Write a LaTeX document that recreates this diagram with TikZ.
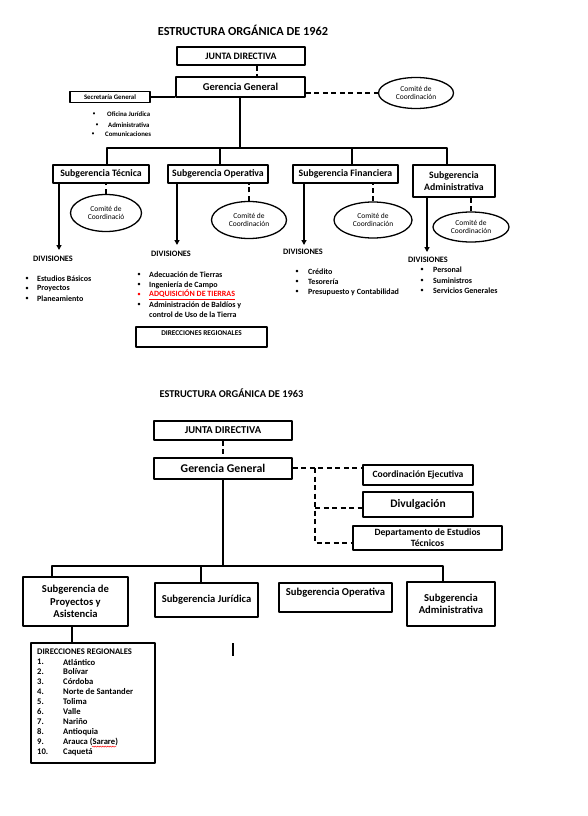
\documentclass[tikz,border=0pt]{standalone}
\usepackage{fontspec}
\setmainfont{Carlito}
\usetikzlibrary{shapes.geometric,arrows.meta,decorations.pathmorphing}
\newcommand{\fs}[1]{\fontsize{#1}{1.15\dimexpr#1pt\relax}\selectfont}
\begin{document}
\begin{tikzpicture}[x=1pt, y=-1pt, line join=round, >={Triangle[width=5pt,length=5pt]},
	box/.style={draw, line width=1.5pt, inner sep=1pt, align=center, font=\bfseries},
	comite/.style={draw, ellipse, line width=1.3pt, inner sep=0pt, align=center, font=\fs{7.5}},
	link/.style={line width=1.5pt},
	dlink/.style={line width=1.7pt, dash pattern=on 5pt off 3.5pt},
	item/.style={anchor=west, inner sep=0pt, font=\bfseries\fs{8}}]
	\useasboundingbox (0,0) rectangle (588,816);
	% ---------- 1962 ----------
	\node[font=\bfseries\fs{12.3}] (title1) at (243,30) {ESTRUCTURA ORGÁNICA DE 1962};
	\node[box, font=\bfseries\fs{9.8}, minimum width=128pt, minimum height=18pt] (jd1) at (241,56) {JUNTA DIRECTIVA};
	\node[box, font=\bfseries\fs{10.5}, minimum width=129pt, minimum height=20pt] (gg1) at (240.5,87) {Gerencia General};
	\node[comite, minimum width=75pt, minimum height=31pt] (com0) at (416,93) {Comité de\\Coordinación};
	\node[box, font=\bfseries\fs{6.8}, minimum width=80pt, minimum height=11pt] (sec) at (110,97) {Secretaría General};
	\draw[dlink] ([xshift=16pt]jd1.south) -- ([xshift=16pt]jd1.south |- gg1.north);
	\draw[dlink] (gg1.east |- com0.west) -- (com0.west);
	\draw[link] (sec.east) -- (sec.east -| gg1.west);
	\foreach \b/\t/\y/\s in {94/107/114/Oficina Jurídica, 97/108/125/Administrativa, 93/105/134/Comunicaciones}
		\node[item, font=\bfseries\fs{6.8}] (sec\y) at (\t,\y) {\s} (\b,\y) node[font=\fs{6}]{\textbullet};
	% bus
	\coordinate (bus1) at (240,148);
	\coordinate (d1) at (107,148);
	\coordinate (d2) at (220,148);
	\coordinate (d3) at (352,148);
	\coordinate (d4) at (447,148);
	\node[box, font=\bfseries\fs{9.8}, minimum width=96pt, minimum height=18pt] (st) at (101,174) {Subgerencia Técnica};
	\node[box, font=\bfseries\fs{9.8}, minimum width=100pt, minimum height=18pt] (so) at (218,174) {Subgerencia Operativa};
	\node[box, font=\bfseries\fs{9.8}, minimum width=105pt, minimum height=18pt] (sf) at (345.5,174) {Subgerencia Financiera};
	\node[box, font=\bfseries\fs{9.8}, minimum width=82pt, minimum height=32pt] (sa) at (454,181) {Subgerencia\\Administrativa};
	\draw[link] (gg1.south -| bus1) -- (bus1);
	\draw[link] (d1 |- st.north) -- (d1) -- (d4) -- (d4 |- sa.north);
	\draw[link] (d2) -- (d2 |- so.north);
	\draw[link] (d3) -- (d3 |- sf.north);
	% comites
	\node[comite, minimum width=71pt, minimum height=37pt] (c1) at (106,213) {Comité de\\Coordinació};
	\node[comite, minimum width=75pt, minimum height=37pt] (c2) at (249,220) {Comité de\\Coordinación};
	\node[comite, minimum width=78pt, minimum height=36pt] (c3) at (373,220) {Comité de\\Coordinación};
	\node[comite, minimum width=76pt, minimum height=30pt] (c4) at (471,227) {Comité de\\Coordinación};
	\foreach \c/\s in {c1/st, c2/so, c3/sf, c4/sa}
		\draw[dlink] (\c.north) -- (\c.north |- \s.south);
	% divisiones
	\coordinate (a1) at (59,250);
	\coordinate (a2) at (177,245);
	\coordinate (a3) at (304,245);
	\coordinate (a4) at (427,252);
	\foreach \a/\s in {a1/st, a2/so, a3/sf, a4/sa}
		\draw[link, ->] (\a |- \s.south) -- (\a);
	\node[item, font=\bfseries\fs{8.3}] (v1) at (33,259) {DIVISIONES};
	\node[item, font=\bfseries\fs{8.3}] (v2) at (151,254) {DIVISIONES};
	\node[item, font=\bfseries\fs{8.3}] (v3) at (283,252) {DIVISIONES};
	\node[item, font=\bfseries\fs{8.3}] (v4) at (408,260) {DIVISIONES};
	\foreach \y/\s in {279/Estudios Básicos, 289/Proyectos, 299/Planeamiento}
		\node[item] (t\y) at (37,\y) {\s} (27,\y) node[font=\fs{7}]{\textbullet};
	\foreach \y/\s in {275/Adecuación de Tierras, 285/Ingeniería de Campo, 305/Administración de Baldíos y}
		\node[item] (o\y) at (149,\y) {\s} (139,\y) node[font=\fs{7}]{\textbullet};
	\node[item, text=red] (o295) at (149,295) {\underline{ADQUISICIÓN DE TIERRAS}};
	\node[font=\fs{7}, text=red] at (139,295) {\textbullet};
	\node[item] (o315) at (149,315) {control de Uso de la Tierra};
	\foreach \y/\s in {272/Crédito, 282/Tesorería, 292/Presupuesto y Contabilidad}
		\node[item] (f\y) at (308,\y) {\s} (297,\y) node[font=\fs{7}]{\textbullet};
	\foreach \y/\s in {270/Personal, 281/Suministros, 291/Servicios Generales}
		\node[item] (p\y) at (433,\y) {\s} (422,\y) node[font=\fs{7}]{\textbullet};
	\node[box, minimum width=131pt, minimum height=20pt] (dr1) at (201.5,337) {};
	\node[font=\bfseries\fs{7.3}] (dr1t) at ([yshift=-6.5pt]dr1.north) {DIRECCIONES REGIONALES};
	% ---------- 1963 ----------
	\node[font=\bfseries\fs{10.4}] (title2) at (231.5,393) {ESTRUCTURA ORGÁNICA DE 1963};
	\node[box, font=\bfseries\fs{10.5}, minimum width=138pt, minimum height=19pt] (jd2) at (223,430.5) {JUNTA DIRECTIVA};
	\node[box, font=\bfseries\fs{11.8}, minimum width=138pt, minimum height=21pt] (gg2) at (223,468.5) {Gerencia General};
	\node[box, font=\bfseries\fs{9.6}, minimum width=110pt, minimum height=20pt] (ce) at (418,475) {Coordinación Ejecutiva};
	\node[box, font=\bfseries\fs{11.5}, minimum width=110pt, minimum height=25pt] (dv) at (418,504.5) {Divulgación};
	\node[box, font=\bfseries\fs{9.6}, minimum width=149pt, minimum height=24pt] (dp) at (427.5,538) {Departamento de Estudios\\Técnicos};
	\draw[dlink] (jd2.south) -- (gg2.north);
	\coordinate (j) at (315,468);
	\coordinate (m) at (315,508);
	\coordinate (k) at (315,543);
	\draw[dlink] (gg2.east |- j) -- (j -| ce.west);
	\draw[dlink] (j) -- (k) -- (k -| dp.west);
	\draw[dlink] (m) -- (m -| dv.west);
	\coordinate (bus2) at (223,566);
	\coordinate (e1) at (52,566);
	\coordinate (e2) at (201,566);
	\coordinate (e3) at (443,566);
	\node[box, font=\bfseries\fs{10.6}, minimum width=105pt, minimum height=49pt] (sp) at (75.5,601.5) {Subgerencia de\\Proyectos y\\Asistencia};
	\node[box, font=\bfseries\fs{10.6}, minimum width=103pt, minimum height=34pt] (sj) at (206.5,600) {Subgerencia Jurídica};
	\node[box, minimum width=113pt, minimum height=29pt] (sop) at (335.5,597.5) {};
	\node[font=\bfseries\fs{10.6}] (sopt) at ([yshift=-10pt]sop.north) {Subgerencia Operativa};
	\node[box, font=\bfseries\fs{10.6}, minimum width=88pt, minimum height=44pt] (sad) at (451,604) {Subgerencia\\Administrativa};
	\draw[link] (gg2.south) -- (bus2);
	\draw[link] (e1 |- sp.north) -- (e1) -- (e3) -- (e3 |- sad.north);
	\draw[link] (e2) -- (e2 |- sj.north);
	\node[box, minimum width=124pt, minimum height=120pt] (dr2) at (93,703) {};
	\draw[link] ([xshift=-3.5pt]sp.south) -- ([xshift=-3.5pt]sp.south |- dr2.north);
	\node[item, font=\bfseries\fs{8.6}] (dr2t) at (37,652) {DIRECCIONES REGIONALES};
	\foreach \n/\s [evaluate=\n as \y using 652+10*\n] in {1/Atlántico, 2/Bolívar, 3/Córdoba, 4/Norte de Santander, 5/Tolima, 6/Valle, 7/Nariño, 8/Antioquia, 9/Arauca (Sarare), 10/Caquetá}
		\node[item, font=\bfseries\fs{8.6}] (r\n) at (63,\y) {\s} (37,\y) node[item, font=\bfseries\fs{8.6}]{\n.};
	\draw[red, line width=0.5pt, decorate, decoration={snake, amplitude=0.6pt, segment length=2.5pt}]
		([xshift=29pt, yshift=-0.5pt]r9.south west) -- ([xshift=53pt, yshift=-0.5pt]r9.south west);
	\draw[line width=1.6pt] (233,643) -- (233,656);
\end{tikzpicture}
\end{document}
